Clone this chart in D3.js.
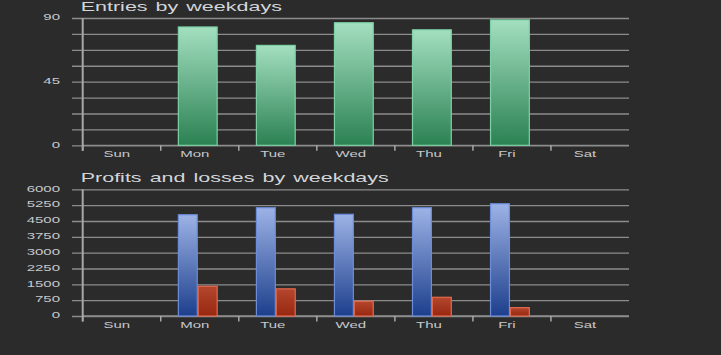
<!DOCTYPE html>
<html><head><meta charset="utf-8">
<script src="https://d3js.org/d3.v7.min.js"></script>
<style>
html,body{margin:0;padding:0;background:#2b2b2b;}
svg{display:block;}
text{font-family:"Liberation Sans",Arial,sans-serif;}
</style></head><body>
<svg id="c" width="721" height="355"></svg>
<script>
const days = ["Sun","Mon","Tue","Wed","Thu","Fri","Sat"];
const entries = [null, 84, 71, 87, 82, 89, null];
const profits = [null, 4820, 5150, 4840, 5150, 5340, null];
const losses  = [null, 1430, 1310, 720, 910, 420, null];
const entryGrid = [0,11.25,22.5,33.75,45,56.25,67.5,78.75,90];
const entryLabels = [0,45,90];
const plGrid = [0,750,1500,2250,3000,3750,4500,5250,6000];

const svg = d3.select("#c");
const defs = svg.append("defs");
function grad(id, top, bot){
  const g = defs.append("linearGradient").attr("id",id).attr("x1",0).attr("y1",0).attr("x2",0).attr("y2",1);
  g.append("stop").attr("offset","0%").attr("stop-color",top);
  g.append("stop").attr("offset","100%").attr("stop-color",bot);
}
grad("gGreen","#a3dfc0","#2b8152");
grad("gBlue","#9db3e6","#1d3f8c");
grad("gRed","#b4472e","#982710");

const SX = 1.58, TSX = 1.72;
const left = 82.7, right = 629;
const gridCol = "#8c8c8c", axisCol = "#a8a8a8", txtCol = "#c6c8cc";

function panel(opts){
  const {top, bottom, max, grid, labels, title, titleY} = opts;
  const x = d3.scaleBand().domain(days).range([left, right]).padding(0);
  const y = d3.scaleLinear().domain([0, max]).range([bottom, top]);
  const g = svg.append("g");
  const ga = g.append("g").attr("transform",`translate(${left},0)`)
    .call(d3.axisLeft(y).tickValues(grid).tickSize(-(right-left)).tickFormat(""));
  ga.select(".domain").remove();
  ga.selectAll(".tick line").attr("x1",-10.7).attr("stroke",gridCol).attr("stroke-width",1.3);
  const lab = g.append("g").selectAll("g").data(labels).join("g")
    .attr("transform",d=>`translate(60,${y(d)-1})`);
  lab.append("text").attr("transform",`scale(${SX},1)`).attr("text-anchor","end")
    .attr("dy","0.35em").attr("font-size",9.5).attr("fill",txtCol).text(d=>d);
  g.append("g").attr("transform",`translate(80.7,${titleY})`)
    .append("text").attr("transform",`scale(${TSX},1)`).attr("font-size",12.5)
    .attr("fill","#d2d5da").attr("word-spacing",1.2).text(title);
  const xa = g.append("g").attr("transform",`translate(0,${bottom})`);
  xa.append("line").attr("x1",left).attr("x2",right).attr("stroke",gridCol).attr("stroke-width",1.3);
  xa.selectAll("line.t").data(days).join("line").attr("class","t")
    .attr("x1",d=>x(d)).attr("x2",d=>x(d)).attr("y1",0).attr("y2",5.5)
    .attr("stroke",axisCol).attr("stroke-width",1.5);
  const xl = xa.selectAll("g.l").data(days).join("g").attr("class","l")
    .attr("transform",d=>`translate(${x(d)+x.bandwidth()/2-5},12)`);
  xl.append("text").attr("transform",`scale(${SX},1)`).attr("text-anchor","middle")
    .attr("font-size",9.5).attr("fill",txtCol).text(d=>d);
  g.append("line").attr("x1",left).attr("x2",left).attr("y1",top).attr("y2",bottom+5.5)
    .attr("stroke",axisCol).attr("stroke-width",2);
  return {g,x,y};
}

const p1 = panel({top:18, bottom:145.3, max:90, grid:entryGrid, labels:entryLabels,
  title:"Entries by weekdays", titleY:11.3});
const bw1 = p1.x.bandwidth()*0.51;
p1.g.append("g").selectAll("rect").data(days.map((d,i)=>({d,v:entries[i]})).filter(o=>o.v!=null))
  .join("rect")
  .attr("x",o=>p1.x(o.d)+p1.x.bandwidth()/2-2-bw1/2+0.5)
  .attr("width",bw1-1)
  .attr("y",o=>p1.y(o.v)+0.5)
  .attr("height",o=>p1.y(0)-p1.y(o.v)-0.5)
  .attr("fill","url(#gGreen)").attr("stroke","#7dd0a4").attr("stroke-width",1.2);

const p2 = panel({top:189.3, bottom:316, max:6000, grid:plGrid, labels:plGrid,
  title:"Profits and losses by weekdays", titleY:181.7});
const sub = d3.scaleBand().domain(["p","l"]).range([0, p2.x.bandwidth()*0.51]);
const bars2 = [];
days.forEach((d,i)=>{
  if(profits[i]!=null) bars2.push({d,k:"p",v:profits[i]});
  if(losses[i]!=null) bars2.push({d,k:"l",v:losses[i]});
});
p2.g.append("g").selectAll("rect").data(bars2).join("rect")
  .attr("x",o=>p2.x(o.d)+p2.x.bandwidth()/2-2-p2.x.bandwidth()*0.255+sub(o.k)+0.5)
  .attr("width",sub.bandwidth()-1)
  .attr("y",o=>p2.y(o.v)+0.5)
  .attr("height",o=>p2.y(0)-p2.y(o.v)-0.5)
  .attr("fill",o=>o.k==="p"?"url(#gBlue)":"url(#gRed)")
  .attr("stroke",o=>o.k==="p"?"#6b8cda":"#e26a4e").attr("stroke-width",1.2);
</script>
</body></html>
